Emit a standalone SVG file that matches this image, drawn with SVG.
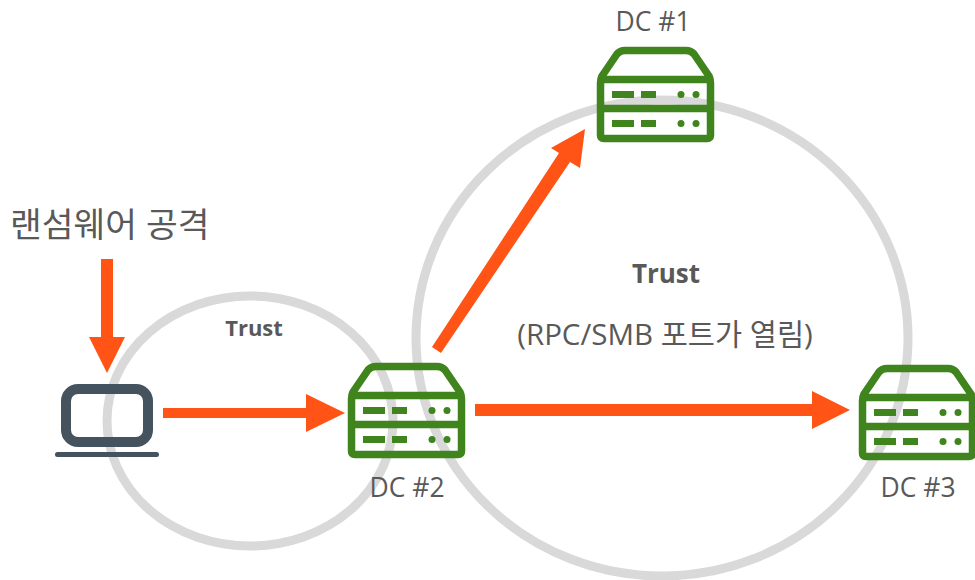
<svg xmlns="http://www.w3.org/2000/svg" width="975" height="580" viewBox="0 0 975 580">
<style>
.t{font-family:"Open Sans","Noto Sans CJK KR",sans-serif;fill:#595959}
.k{font-family:"Open Sans","Noto Sans CJK KR",sans-serif;fill:#595959;font-weight:700}
.ring{fill:none;stroke:#d9d9d9;stroke-width:9}
.a{fill:#ff5416;stroke:none}
.g{fill:none;stroke:#3f841c;stroke-width:7.500;stroke-linejoin:round}
.f{fill:#3f841c}
</style>
<defs>
<g id="srv">
<path class="g" d="M3.500 36Q3.500 32 5 29L20 7Q23 3.500 28 3.500H89Q94 3.500 97 7L112 29Q113.500 32 113.500 36V88Q113.500 91.500 110 91.500H7Q3.500 91.500 3.500 88ZM3.500 32.500H113.500M3.500 61.500H113.500"/>
<rect class="f" x="15" y="44" width="22" height="7"/>
<rect class="f" x="44" y="44" width="15" height="7"/>
<circle class="f" cx="84" cy="47.500" r="3.500"/>
<circle class="f" cx="99" cy="47.500" r="3.500"/>
<rect class="f" x="15" y="73" width="22" height="7"/>
<rect class="f" x="44" y="73" width="15" height="7"/>
<circle class="f" cx="84" cy="76.500" r="3.500"/>
<circle class="f" cx="99" cy="76.500" r="3.500"/>
</g>
</defs>
<g id="rings">
<ellipse class="ring" cx="250" cy="421" rx="143" ry="125"/>
<ellipse class="ring" cx="662" cy="338" rx="246" ry="238"/>
</g>
<g id="connectors">
<polygon class="a" points="101,259 113,259 113,337 125,337 107,373 89,337 101,337"/>
<polygon class="a" points="163,408 306,408 306,394 345,413 306,432 306,418 163,418"/>
<polygon class="a" points="475,404 812,404 812,391 850,410 812,429 812,416 475,416"/>
<polygon class="a" points="432,347 559,153 551,148 585,129 580,168 570,162 441,353"/>
</g>
<g id="laptop">
<rect x="66" y="389" width="82" height="53" rx="12" fill="none" stroke="#44535e" stroke-width="10"/>
<rect x="55" y="452" width="104" height="5" rx="2.500" fill="#44535e"/>
</g>
<g id="dc2"><use href="#srv" x="348" y="363"/><text class="t" x="407" y="497" font-size="26.500" text-anchor="middle">DC #2</text></g>
<g id="dc1"><use href="#srv" x="597" y="47"/><text class="t" x="653" y="31" font-size="26.500" text-anchor="middle">DC #1</text></g>
<g id="dc3"><use href="#srv" x="859" y="365"/><text class="t" x="918" y="497" font-size="26.500" text-anchor="middle">DC #3</text></g>
<g id="labels">
<text class="t" x="10" y="237" font-size="34.500">랜섬웨어 공격</text>
<text class="k" x="254" y="336" font-size="22" text-anchor="middle">Trust</text>
<text class="k" x="666" y="283" font-size="26" text-anchor="middle">Trust</text>
<text class="t" x="665" y="345" font-size="29.500" text-anchor="middle">(RPC/SMB 포트가 열림)</text>
</g>
</svg>
